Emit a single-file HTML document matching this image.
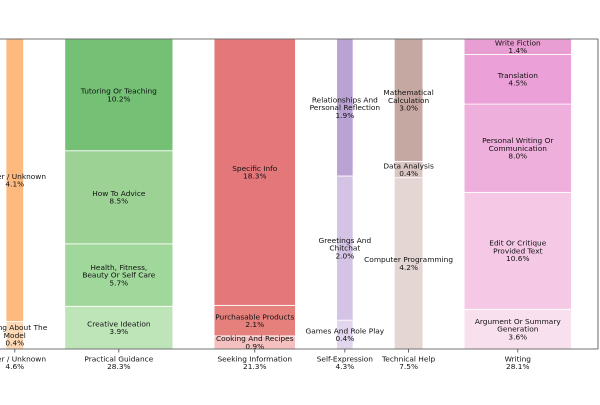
<!DOCTYPE html>
<html><head><meta charset="utf-8"><style>
html,body{margin:0;padding:0;background:#fff;}
svg text{font-family:"DejaVu Sans","Liberation Sans",sans-serif;font-size:7.4px;fill:#111;}
</style></head><body>
<svg id="chart" width="600" height="400" viewBox="0 0 600 400" xmlns="http://www.w3.org/2000/svg">
<g id="bars"></g>
<g id="labels"></g>
<g id="axis"></g>
<line x1="0" y1="39" x2="598" y2="39" stroke="#444" stroke-width="0.8"/>
<line x1="598" y1="39" x2="598" y2="349" stroke="#444" stroke-width="0.8"/>
<line x1="0" y1="349" x2="598" y2="349" stroke="#444" stroke-width="0.8"/>
</svg>
<script>
const categories = ["Other / Unknown","Practical Guidance","Seeking Information","Self-Expression","Technical Help","Writing"];
const categoryTotals = [4.6,28.3,21.3,4.3,7.5,28.1];
const segNames = [
 ["Asking About The|Model","Other / Unknown"],
 ["Creative Ideation","Health, Fitness,|Beauty Or Self Care","How To Advice","Tutoring Or Teaching"],
 ["Cooking And Recipes","Purchasable Products","Specific Info"],
 ["Games And Role Play","Greetings And|Chitchat","Relationships And|Personal Reflection"],
 ["Computer Programming","Data Analysis","Mathematical|Calculation"],
 ["Argument Or Summary|Generation","Edit Or Critique|Provided Text","Personal Writing Or|Communication","Translation","Write Fiction"]
];
const segValues = [
 [0.4,4.1],
 [3.9,5.7,8.5,10.2],
 [0.9,2.1,18.3],
 [0.4,2.0,1.9],
 [4.2,0.4,3.0],
 [3.6,10.6,8.0,4.5,1.4]
];
const segColors = [
 ["#fdd8b4","#fdb97e"],
 ["#bee5b8","#a0d79a","#9cd395","#74c176"],
 ["#f4c0c0","#e5807d","#e4777a"],
 ["#e2d6ee","#d4c3e5","#bba2d5"],
 ["#e4d6d3","#dac6c2","#c6a8a2"],
 ["#f9e0ef","#f5c9e6","#efafdc","#eba0d8","#e89ed2"]
];
const pxPerPct = 3.82, gap = 41.2, x0 = 6, yTop = 39, yBot = 349;
const NS = "http://www.w3.org/2000/svg";
const bars = document.getElementById('bars'), labels = document.getElementById('labels'), axis = document.getElementById('axis');
function mk(tag, attrs, parent){const e=document.createElementNS(NS,tag);for(const k in attrs)e.setAttribute(k,attrs[k]);parent.appendChild(e);return e;}
function yScale(frac){return yBot - frac*(yBot-yTop);}
function multiText(parent, cx, cy, lines){
  const lh=7.7, start=cy-(lines.length-1)*lh/2+2.6;
  const t=mk('text',{x:cx,'text-anchor':'middle'},parent);
  lines.forEach((l,i)=>{const s=mk('tspan',{x:cx,y:start+i*lh},t);s.textContent=l;});
  return t;
}
let x = x0;
categories.forEach((cat,ci)=>{
  const w = categoryTotals[ci]*pxPerPct;
  const vals = segValues[ci];
  const sum = vals.reduce((a,b)=>a+b,0);
  let acc = 0;
  const cx = x + w/2;
  vals.forEach((v,si)=>{
    const y1 = yScale(acc/sum), y2 = yScale((acc+v)/sum);
    const r = mk('rect',{x:x,y:y2,width:w,height:y1-y2,fill:segColors[ci][si],stroke:'#fff','stroke-width':0.8},bars);
    
    
    const lines = segNames[ci][si].split('|').concat([v.toFixed(1)+'%']);
    const t = multiText(labels, cx, (y1+y2)/2, lines);
    
    
    acc += v;
  });
  const tk = mk('line',{x1:cx,x2:cx,y1:yBot,y2:yBot+3.5,stroke:'#444','stroke-width':0.8},axis);
  
  
  const tl = multiText(axis, cx, 362.5, [cat, categoryTotals[ci].toFixed(1)+'%']);
  
  
  x += w + gap;
});
</script>
</body></html>
